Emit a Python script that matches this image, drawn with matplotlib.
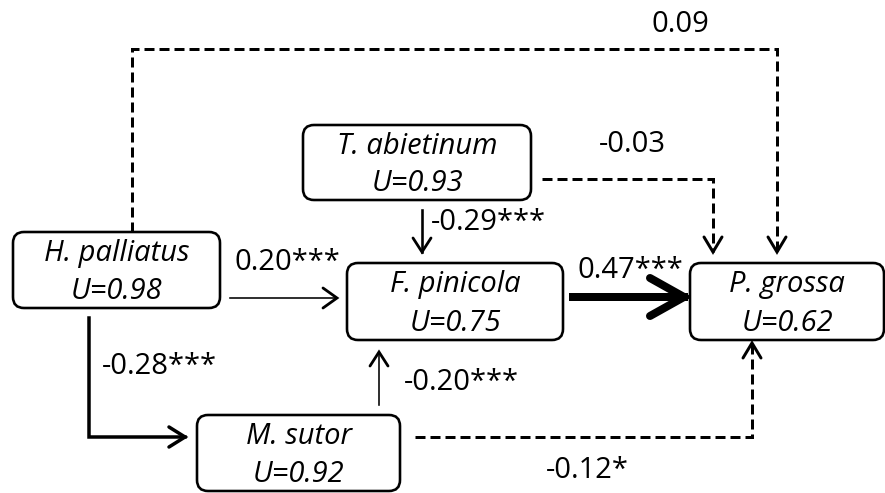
import numpy as np
import matplotlib.pyplot as plt
from matplotlib.patches import FancyBboxPatch

plt.rcParams['font.family'] = ['Open Sans', 'DejaVu Sans']

# path model data
species = ['H. palliatus', 'T. abietinum', 'F. pinicola', 'M. sutor', 'P. grossa']
u_values = [0.98, 0.93, 0.75, 0.92, 0.62]

path_from = ['H. palliatus', 'H. palliatus', 'H. palliatus', 'T. abietinum',
             'T. abietinum', 'M. sutor', 'M. sutor', 'F. pinicola']
path_to = ['F. pinicola', 'M. sutor', 'P. grossa', 'F. pinicola',
           'P. grossa', 'F. pinicola', 'P. grossa', 'P. grossa']
coefs = [0.20, -0.28, 0.09, -0.29, -0.03, -0.20, -0.12, 0.47]
stars = ['***', '***', '', '***', '', '***', '*', '***']

# layout in pixel coordinates (y downwards)
boxes = {
    'H. palliatus': (13, 232, 220, 308),
    'T. abietinum': (303, 125, 531, 200),
    'F. pinicola': (347, 263, 563, 340),
    'M. sutor': (197, 415, 400, 491),
    'P. grossa': (690, 263, 884, 340),
}

# route, line width (px), dashed, head (back, half width), label position, alignment
routes = {
    ('H. palliatus', 'F. pinicola'): ([(230, 298), (337, 298)], 1.6, False, (14, 10), (287, 262), 'center'),
    ('H. palliatus', 'M. sutor'): ([(89, 318), (89, 437), (185, 437)], 3.5, False, (16, 10), (102, 367), 'left'),
    ('H. palliatus', 'P. grossa'): ([(132, 232), (132, 49), (777, 49), (777, 252)], 3.0, True, (15, 9), (680, 25), 'center'),
    ('T. abietinum', 'F. pinicola'): ([(422, 210), (422, 252)], 2.6, False, (14, 9), (431, 223), 'left'),
    ('T. abietinum', 'P. grossa'): ([(542, 179), (713, 179), (713, 252)], 3.0, True, (15, 9), (632, 145), 'center'),
    ('M. sutor', 'F. pinicola'): ([(379, 405), (379, 352)], 1.6, False, (14, 9), (404, 382), 'left'),
    ('M. sutor', 'P. grossa'): ([(415, 437), (752, 437), (752, 343)], 3.0, True, (15, 9), (587, 471), 'center'),
    ('F. pinicola', 'P. grossa'): ([(573, 297), (684, 297)], 8.0, False, (34, 19), (630, 270), 'center'),
}

PX = 0.72  # points per pixel at dpi 100
FS = 21


def draw_box(ax, name, u):
    x0, y0, x1, y1 = boxes[name]
    box = FancyBboxPatch((x0, y0), x1 - x0, y1 - y0,
                         boxstyle='round,pad=0,rounding_size=11',
                         fc='white', ec='black', lw=2.6 * PX, zorder=3)
    ax.add_patch(box)
    cx = (x0 + x1) / 2
    h = y1 - y0
    ax.text(cx, y0 + 0.28 * h, name, style='italic', fontsize=FS,
            ha='center', va='center', zorder=4)
    ax.text(cx, y0 + 0.78 * h, 'U=%.2f' % u, style='italic', fontsize=FS,
            ha='center', va='center', zorder=4)


def draw_arrow(ax, pts, lw, dashed, head):
    pts = np.array(pts, dtype=float)
    ls = (0, (10 / 3.0, 5 / 3.0)) if dashed else '-'
    ax.plot(pts[:, 0], pts[:, 1], color='black', lw=lw * PX, ls=ls,
            solid_joinstyle='miter', dash_joinstyle='miter', zorder=2)
    tip = pts[-1]
    d = tip - pts[-2]
    d = d / np.hypot(*d)
    n = np.array([-d[1], d[0]])
    back, half = head
    a = tip - back * d + half * n
    b = tip - back * d - half * n
    hl = max(lw, 2.8)
    ax.plot([a[0], tip[0], b[0]], [a[1], tip[1], b[1]], color='black',
            lw=hl * PX, solid_capstyle='round', solid_joinstyle='miter', zorder=2)


fig = plt.figure(figsize=(8.85, 4.93), dpi=100)
ax = fig.add_axes([0, 0, 1, 1])
ax.set_xlim(0, 885)
ax.set_ylim(493, 0)
ax.axis('off')

for name, u in zip(species, u_values):
    draw_box(ax, name, u)

for src, dst, c, s in zip(path_from, path_to, coefs, stars):
    pts, lw, dashed, head, lab, ha = routes[(src, dst)]
    draw_arrow(ax, pts, lw, dashed, head)
    ax.text(lab[0], lab[1], '%.2f%s' % (c, s), fontsize=FS, ha=ha, va='center')

fig.savefig('out.png', dpi=100)
